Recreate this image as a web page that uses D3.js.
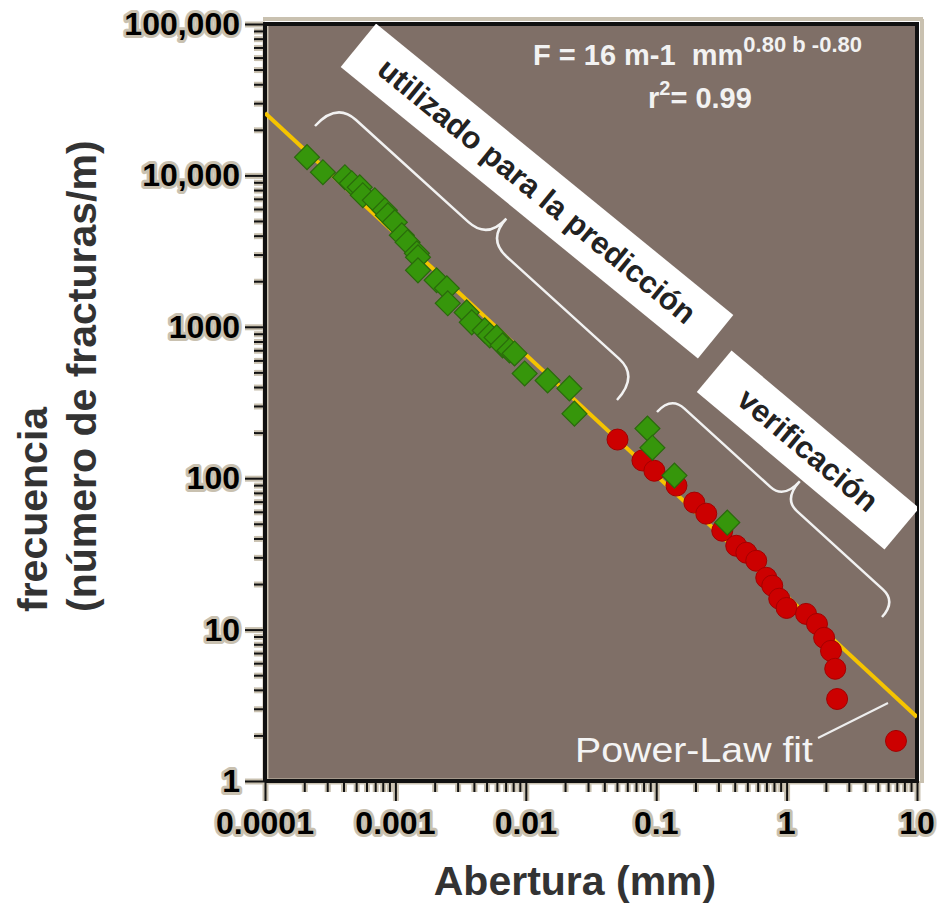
<!DOCTYPE html>
<html>
<head>
	<meta charset="utf-8">
	<style>
		body { margin: 0; background: #fff; }
		text { font-family: "Liberation Sans", Arial, sans-serif; }
	</style>
</head>
<body>
<div id="chartContainer"></div>
<script src="https://cdn.jsdelivr.net/npm/d3@7"></script>
<script type="text/javascript">

// Data
// green diamonds: points used for the prediction
var predAperture = [0.00021, 0.000278, 0.00041, 0.000463, 0.000533, 0.000562, 0.000695, 0.00083, 0.000875, 0.00099,
	0.00112, 0.00124, 0.00146, 0.00149, 0.00149, 0.00207, 0.00248, 0.00252, 0.00352, 0.00385,
	0.00484, 0.00529, 0.00597, 0.00664, 0.0075, 0.0082, 0.0098, 0.0147, 0.0216, 0.0236,
	0.0857, 0.0935, 0.138, 0.351];
var predFreq = [13200, 10500, 9730, 8880, 8350, 7400, 6860, 5890, 5450, 4900,
	4020, 3620, 3055, 2880, 2360, 2030, 1795, 1430, 1245, 1070,
	947, 877, 851, 754, 698, 667, 492, 442, 392, 267,
	213, 159, 104, 50.9];

// red circles: verification points
var verAperture = [0.0505, 0.0784, 0.0968, 0.143, 0.196, 0.242, 0.321, 0.411, 0.491, 0.585,
	0.698, 0.776, 0.878, 1.0, 1.41, 1.71, 1.94, 2.19, 2.36, 2.44, 6.9];
var verFreq = [180, 131, 112, 89.4, 69, 58.3, 45, 35.8, 32.2, 28.5,
	22.0, 19.5, 16.0, 13.9, 12.7, 10.9, 8.83, 7.24, 5.51, 3.48, 1.84];

// power-law fit line end points
var fitAperture = [0.0001, 10];
var fitFreq = [25800, 2.65];

// tick labels
var xTicks = [0.0001, 0.001, 0.01, 0.1, 1, 10];
var xTickLabels = ["0.0001", "0.001", "0.01", "0.1", "1", "10"];
var yTicks = [1, 10, 100, 1000, 10000, 100000];
var yTickLabels = ["1", "10", "100", "1000", "10,000", "100,000"];

// Chart size
var width = 939, height = 909;
var plot = {left: 265, top: 24, right: 917, bottom: 781};
var halo = "#c9c1b0";

var svg = d3.select("#chartContainer").append("svg")
	.attr("width", width).attr("height", height);

var x = d3.scaleLog().domain([0.0001, 10]).range([plot.left, plot.right]);
var y = d3.scaleLog().domain([1, 100000]).range([plot.bottom, plot.top]);

// minor ticks 2..9 of every decade
function minors(lo, hi) {
	var out = [];
	for (var d = lo; d < hi; d *= 10)
		for (var k = 1; k <= 9; k++) out.push(d * k);
	out.push(hi);
	return out;
}
var isMajor = function(v) { return Math.abs(Math.log10(v) - Math.round(Math.log10(v))) < 1e-9; };

// halo around the frame
svg.append("line").attr("x1", plot.left - 2).attr("x2", plot.right + 6)
	.attr("y1", plot.top - 5).attr("y2", plot.top - 5)
	.attr("stroke", halo).attr("stroke-width", 4);
svg.append("line").attr("x1", plot.right + 5).attr("x2", plot.right + 5)
	.attr("y1", plot.top - 5).attr("y2", plot.bottom + 2)
	.attr("stroke", halo).attr("stroke-width", 4);

// plot background
svg.append("rect")
	.attr("x", plot.left).attr("y", plot.top)
	.attr("width", plot.right - plot.left).attr("height", plot.bottom - plot.top)
	.attr("fill", "#7f6f67");

svg.append("clipPath").attr("id", "clip")
	.append("rect")
	.attr("x", plot.left).attr("y", plot.top)
	.attr("width", plot.right - plot.left).attr("height", plot.bottom - plot.top);

// axes: drawn twice, first a wide light halo then black
function drawAxes(color, w) {
	var gy = svg.append("g")
		.attr("transform", "translate(" + plot.left + ",0)")
		.call(d3.axisLeft(y).tickValues(minors(1, 100000)).tickFormat("").tickSizeOuter(0));
	gy.selectAll(".tick line").attr("x2", function(d) { return isMajor(d) ? -20 : -11; });
	var gx = svg.append("g")
		.attr("transform", "translate(0," + plot.bottom + ")")
		.call(d3.axisBottom(x).tickValues(minors(0.0001, 10)).tickFormat("").tickSizeOuter(0));
	gx.selectAll(".tick line").attr("y2", function(d) { return isMajor(d) ? 20 : 11; });
	[gx, gy].forEach(function(g) {
		g.selectAll("line,path").attr("stroke", color).attr("stroke-width", w);
	});
	return [gx, gy];
}
drawAxes(halo, 6);
drawAxes("#111", 2);

// thicker frame lines
svg.append("path")
	.attr("d", "M" + plot.left + "," + plot.bottom + "V" + plot.top + "H" + plot.right + "V" + plot.bottom + "H" + plot.left)
	.attr("fill", "none").attr("stroke", "#111").attr("stroke-width", 4);

// tick labels with halo
svg.selectAll(".xlab").data(xTicks).enter().append("text")
	.attr("x", function(d) { return x(d); }).attr("y", 834)
	.attr("text-anchor", "middle")
	.style("font-size", "32px").style("font-weight", "bold")
	.attr("fill", "#000").attr("stroke", halo).attr("stroke-width", 6)
	.attr("paint-order", "stroke").attr("stroke-linejoin", "round")
	.text(function(d, i) { return xTickLabels[i]; });

svg.selectAll(".ylab").data(yTicks).enter().append("text")
	.attr("x", 240).attr("y", function(d) { return y(d) + 11; })
	.attr("text-anchor", "end")
	.style("font-size", "32px").style("font-weight", "bold")
	.attr("fill", "#000").attr("stroke", halo).attr("stroke-width", 6)
	.attr("paint-order", "stroke").attr("stroke-linejoin", "round")
	.text(function(d, i) { return yTickLabels[i]; });

// axis titles
svg.append("text")
	.attr("x", 575).attr("y", 895).attr("text-anchor", "middle")
	.style("font-size", "41px").style("font-weight", "bold").attr("fill", "#333")
	.text("Abertura (mm)");

var yt = svg.append("g").attr("transform", "translate(0,612) rotate(-90)");
yt.append("text").attr("x", 0).attr("y", 47)
	.style("font-size", "41px").style("font-weight", "bold").attr("fill", "#333")
	.text("frecuencia");
yt.append("text").attr("x", 0).attr("y", 96)
	.style("font-size", "41px").style("font-weight", "bold").attr("fill", "#333")
	.text("(número de fracturas/m)");

var inner = svg.append("g").attr("clip-path", "url(#clip)");

// power-law fit
inner.append("line")
	.attr("x1", x(fitAperture[0])).attr("y1", y(fitFreq[0]))
	.attr("x2", x(fitAperture[1])).attr("y2", y(fitFreq[1]))
	.attr("stroke", "#f5c400").attr("stroke-width", 4);

// curly braces in a rotated frame
function brace(x1, y1, x2, y2, h, c, r) {
	var L = Math.hypot(x2 - x1, y2 - y1);
	var a = Math.atan2(y2 - y1, x2 - x1) * 180 / Math.PI;
	var m = L / 2;
	var d = "M0,0 Q0," + (-h) + " " + r + "," + (-h) +
		" L" + (m - r) + "," + (-h) +
		" Q" + m + "," + (-h) + " " + m + "," + (-h - c) +
		" Q" + m + "," + (-h) + " " + (m + r) + "," + (-h) +
		" L" + (L - r) + "," + (-h) +
		" Q" + L + "," + (-h) + " " + L + ",0";
	inner.append("path")
		.attr("transform", "translate(" + x1 + "," + y1 + ") rotate(" + a + ")")
		.attr("d", d).attr("fill", "none")
		.attr("stroke", "#f2f2f2").attr("stroke-width", 2.5);
}
brace(315, 126, 617, 400, 32, 28, 26);
brace(657, 412, 882, 617, 21, 24, 18);

// white labels on rotated boxes
function tag(cx, cy, L, H, angle, label) {
	var g = inner.append("g").attr("transform", "translate(" + cx + "," + cy + ") rotate(" + angle + ")");
	g.append("rect").attr("x", -L / 2).attr("y", -H / 2).attr("width", L).attr("height", H).attr("fill", "#fff");
	g.append("text").attr("text-anchor", "middle").attr("dominant-baseline", "central")
		.style("font-size", "31px").style("font-weight", "bold").attr("fill", "#222")
		.text(label);
}
tag(537, 191, 461, 56, 39.2, "utilizado para la predicción");
tag(808, 450, 245, 54, 40, "verificación");

// verification points
inner.selectAll(".ver").data(verAperture).enter().append("circle")
	.attr("cx", function(d) { return x(d); })
	.attr("cy", function(d, i) { return y(verFreq[i]); })
	.attr("r", 10.5)
	.attr("fill", "#cc0000").attr("stroke", "#a30000").attr("stroke-width", 1);

// prediction points
inner.selectAll(".pred").data(predAperture).enter().append("path")
	.attr("transform", function(d, i) { return "translate(" + x(d) + "," + y(predFreq[i]) + ") rotate(45)"; })
	.attr("d", d3.symbol(d3.symbolSquare, 310))
	.attr("fill", "#36960b").attr("stroke", "#2a6a0c").attr("stroke-width", 1.2);

// formula
var f = svg.append("text").attr("x", 533).attr("y", 65)
	.style("font-size", "29px").style("font-weight", "bold").attr("fill", "#f2f2f2")
	.style("white-space", "pre");
f.append("tspan").text("F = 16 m-1  mm");
f.append("tspan").attr("dy", -13).style("font-size", "22px").text("0.80 b -0.80");

var r2 = svg.append("text").attr("x", 648).attr("y", 108)
	.style("font-size", "29px").style("font-weight", "bold").attr("fill", "#f2f2f2");
r2.append("tspan").text("r");
r2.append("tspan").attr("dy", -13).style("font-size", "20px").text("2");
r2.append("tspan").attr("dy", 13).text("= 0.99");

// Power-Law fit label with leader line
svg.append("line")
	.attr("x1", 818).attr("y1", 738).attr("x2", 888).attr("y2", 703)
	.attr("stroke", "#eee").attr("stroke-width", 2);
svg.append("text").attr("x", 575).attr("y", 762)
	.attr("textLength", 238).attr("lengthAdjust", "spacingAndGlyphs")
	.style("font-size", "35px").attr("fill", "#f4f4f4")
	.text("Power-Law fit");

</script>
</body>
</html>
